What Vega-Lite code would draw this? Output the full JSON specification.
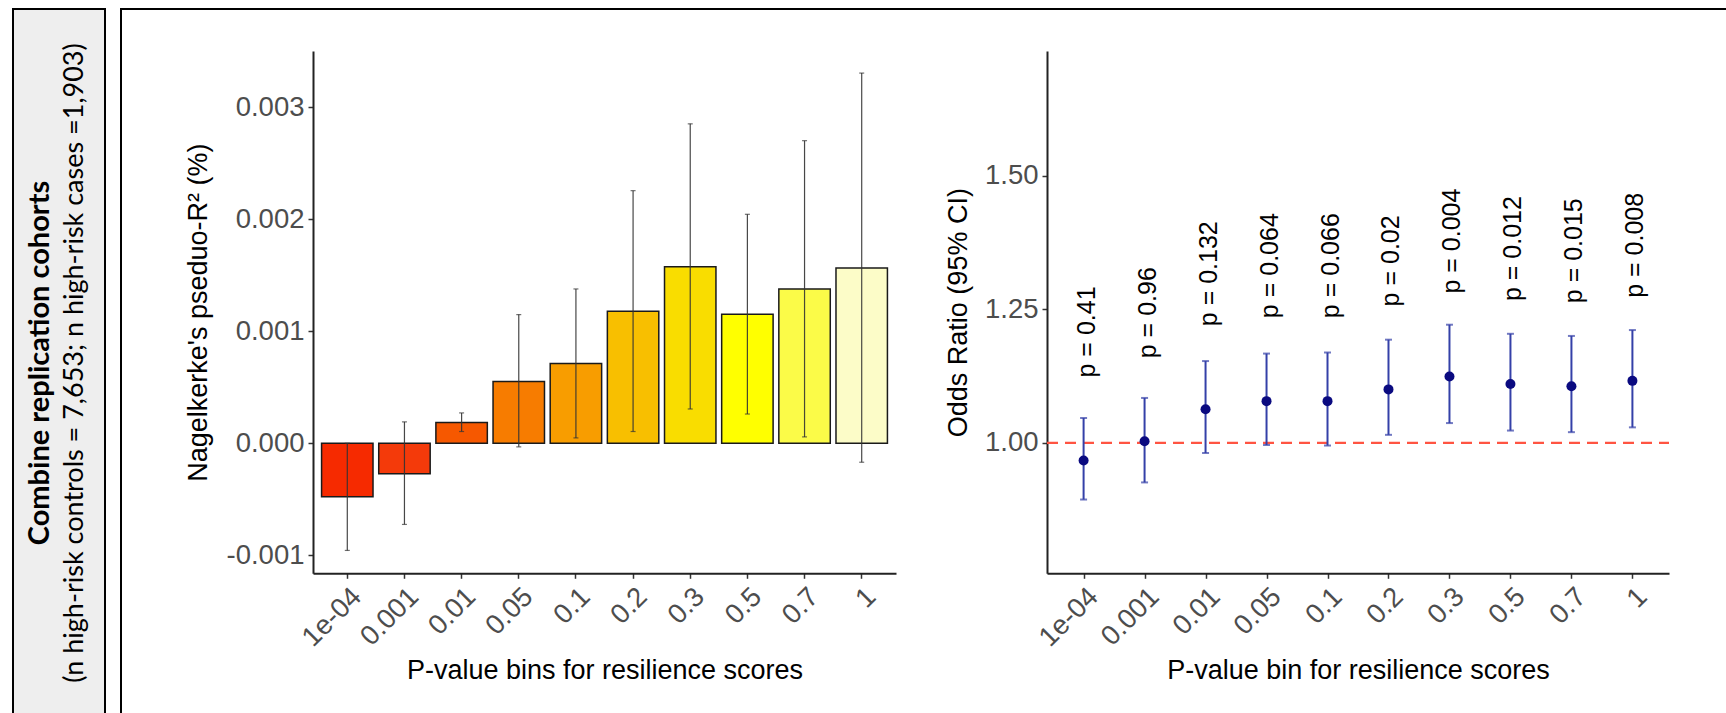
{
  "$schema": "https://vega.github.io/schema/vega-lite/v6.json",
  "padding": {"left": 12, "top": 8, "right": 0, "bottom": 0},
  "background": "white",
  "spacing": 14,
  "config": {
    "font": "Liberation Sans",
    "view": {"stroke": null},
    "axis": {
      "grid": false,
      "domainColor": "#222222",
      "domainWidth": 2,
      "tickColor": "#333333",
      "tickWidth": 1.5,
      "tickSize": 5,
      "labelColor": "#4D4D4D",
      "labelFont": "Liberation Sans",
      "labelFontSize": 27.5,
      "labelPadding": 4,
      "titleFont": "Liberation Sans",
      "titleFontSize": 27,
      "titleFontWeight": "normal",
      "titleColor": "#000000",
      "labelOverlap": false
    }
  },
  "hconcat": [
    {
      "width": 92,
      "height": 708,
      "view": {"fill": "#EEEEEE", "stroke": "#000000", "strokeWidth": 2},
      "data": {"values": [
        {"line": 1, "text": "Combine replication cohorts"},
        {"line": 2, "text": "(n high-risk controls = 7,653; n high-risk cases =1,903)"}
      ]},
      "encoding": {
        "x": {"field": "line", "type": "quantitative", "scale": {"domain": [0.203, 2.87], "nice": false, "zero": false}, "axis": null},
        "y": {"datum": 0, "type": "quantitative", "scale": {"domain": [-1, 1]}, "axis": null},
        "text": {"field": "text"}
      },
      "layer": [
        {"transform": [{"filter": "datum.line == 1"}], "mark": {"type": "text", "angle": 270, "font": "Lato", "fontWeight": "bold", "fontSize": 29, "color": "#000000"}},
        {"transform": [{"filter": "datum.line == 2"}], "mark": {"type": "text", "angle": 270, "font": "Lato", "fontSize": 27, "color": "#000000"}}
      ]
    },
    {
      "width": 1609,
      "height": 708,
      "view": {"fill": "#FFFFFF", "stroke": "#000000", "strokeWidth": 2},
      "layer": [
        {
          "data": {"values": [
            {"bin": "1e-04", "r2": -0.000478, "lo": -0.000956, "hi": 0.0},
            {"bin": "0.001", "r2": -0.000271, "lo": -0.000724, "hi": 0.000191},
            {"bin": "0.01", "r2": 0.000185, "lo": 0.000105, "hi": 0.000271},
            {"bin": "0.05", "r2": 0.000551, "lo": -0.000032, "hi": 0.001148},
            {"bin": "0.1", "r2": 0.000711, "lo": 0.000048, "hi": 0.001377},
            {"bin": "0.2", "r2": 0.001179, "lo": 0.000105, "hi": 0.002254},
            {"bin": "0.3", "r2": 0.001575, "lo": 0.000306, "hi": 0.00285},
            {"bin": "0.5", "r2": 0.001151, "lo": 0.000261, "hi": 0.002043},
            {"bin": "0.7", "r2": 0.001377, "lo": 0.000057, "hi": 0.0027},
            {"bin": "1", "r2": 0.001565, "lo": -0.000169, "hi": 0.003303}
          ]},
          "encoding": {
            "x": {"field": "bin", "type": "nominal", "sort": null,
              "scale": {"type": "band", "range": [192, 775], "paddingInner": 0.1, "paddingOuter": 0.15},
              "axis": {"orient": "bottom", "offset": -143.7, "title": "P-value bins for resilience scores", "labelAngle": -45, "labelAlign": "right", "labelBaseline": "top", "titlePadding": 6}}
          },
          "layer": [
            {
              "mark": {"type": "bar", "stroke": "#1A1A1A", "strokeWidth": 1.5},
              "encoding": {
                "y": {"field": "r2", "type": "quantitative",
                  "scale": {"domain": [-0.00116, 0.0035], "range": [564.3, 42], "nice": false, "zero": false},
                  "axis": {"orient": "left", "offset": -192, "title": "Nagelkerke's pseduo-R² (%)", "values": [-0.001, 0, 0.001, 0.002, 0.003], "labelExpr": "replace(format(datum.value, '.3f'), '−', '-')", "titlePadding": 14}},
                "y2": {"datum": 0},
                "color": {"field": "bin", "type": "nominal", "sort": null,
                  "scale": {"domain": ["1e-04", "0.001", "0.01", "0.05", "0.1", "0.2", "0.3", "0.5", "0.7", "1"],
                    "range": ["#F62A00", "#F43A0A", "#F65800", "#F77C00", "#F89D00", "#F8BF00", "#F9DD00", "#FFFF00", "#FBFB48", "#FCFCC8"]},
                  "legend": null}
              }
            },
            {
              "mark": {"type": "rule", "color": "#333333", "strokeWidth": 1.2, "opacity": 0.9},
              "encoding": {"y": {"field": "lo", "type": "quantitative"}, "y2": {"field": "hi"}}
            },
            {
              "mark": {"type": "tick", "orient": "horizontal", "size": 5, "thickness": 1.2, "color": "#333333"},
              "encoding": {"y": {"field": "lo", "type": "quantitative"}}
            },
            {
              "mark": {"type": "tick", "orient": "horizontal", "size": 5, "thickness": 1.2, "color": "#333333"},
              "encoding": {"y": {"field": "hi", "type": "quantitative"}}
            }
          ]
        },
        {
          "layer": [
            {
              "data": {"values": [{"ref": 1}]},
              "mark": {"type": "rule", "color": "#FF5442", "strokeWidth": 2.2, "strokeDash": [11, 7]},
              "encoding": {
                "x": {"datum": 0, "type": "quantitative", "scale": {"domain": [0, 1], "range": [926, 1548], "nice": false, "zero": false}, "axis": null},
                "x2": {"datum": 1},
                "y": {"field": "ref", "type": "quantitative",
                  "scale": {"domain": [0.756, 1.733], "range": [564.3, 42], "nice": false, "zero": false},
                  "axis": {"orient": "left", "offset": -926, "title": "Odds Ratio (95% CI)", "values": [1, 1.25, 1.5], "format": ".2f", "titlePadding": 12}}
              }
            },
            {
              "data": {"values": [
                {"bin": "1e-04", "or": 0.967, "lo": 0.894, "hi": 1.0465, "p": "p = 0.41"},
                {"bin": "0.001", "or": 1.003, "lo": 0.926, "hi": 1.084, "p": "p = 0.96"},
                {"bin": "0.01", "or": 1.063, "lo": 0.981, "hi": 1.153, "p": "p = 0.132"},
                {"bin": "0.05", "or": 1.078, "lo": 0.996, "hi": 1.167, "p": "p = 0.064"},
                {"bin": "0.1", "or": 1.078, "lo": 0.995, "hi": 1.169, "p": "p = 0.066"},
                {"bin": "0.2", "or": 1.1, "lo": 1.015, "hi": 1.193, "p": "p = 0.02"},
                {"bin": "0.3", "or": 1.124, "lo": 1.037, "hi": 1.221, "p": "p = 0.004"},
                {"bin": "0.5", "or": 1.11, "lo": 1.023, "hi": 1.204, "p": "p = 0.012"},
                {"bin": "0.7", "or": 1.106, "lo": 1.02, "hi": 1.2, "p": "p = 0.015"},
                {"bin": "1", "or": 1.116, "lo": 1.029, "hi": 1.211, "p": "p = 0.008"}
              ]},
              "encoding": {
                "x": {"field": "bin", "type": "nominal", "sort": null,
                  "scale": {"type": "point", "range": [926, 1548], "padding": 0.6},
                  "axis": {"orient": "bottom", "offset": -143.7, "title": "P-value bin for resilience scores", "labelAngle": -45, "labelAlign": "right", "labelBaseline": "top", "titlePadding": 6}}
              },
              "layer": [
                {
                  "mark": {"type": "rule", "color": "#3440A8", "strokeWidth": 2},
                  "encoding": {
                    "y": {"field": "lo", "type": "quantitative",
                      "scale": {"domain": [0.756, 1.733], "range": [564.3, 42], "nice": false, "zero": false},
                      "axis": {"orient": "left", "offset": -926, "title": "Odds Ratio (95% CI)", "values": [1, 1.25, 1.5], "format": ".2f", "titlePadding": 12}},
                    "y2": {"field": "hi"}
                  }
                },
                {
                  "mark": {"type": "tick", "orient": "horizontal", "size": 7, "thickness": 2, "color": "#3440A8"},
                  "encoding": {"y": {"field": "lo", "type": "quantitative"}}
                },
                {
                  "mark": {"type": "tick", "orient": "horizontal", "size": 7, "thickness": 2, "color": "#3440A8"},
                  "encoding": {"y": {"field": "hi", "type": "quantitative"}}
                },
                {
                  "mark": {"type": "point", "filled": true, "size": 100, "color": "#0A0A80", "opacity": 1},
                  "encoding": {"y": {"field": "or", "type": "quantitative"}}
                },
                {
                  "mark": {"type": "text", "angle": 270, "align": "left", "baseline": "middle", "dx": 83, "dy": 3, "fontSize": 25, "font": "Liberation Sans", "color": "#000000"},
                  "encoding": {"y": {"field": "or", "type": "quantitative"}, "text": {"field": "p"}}
                }
              ]
            }
          ],
          "resolve": {"scale": {"x": "independent"}}
        }
      ],
      "resolve": {"scale": {"x": "independent", "y": "independent", "color": "independent"}}
    }
  ]
}
